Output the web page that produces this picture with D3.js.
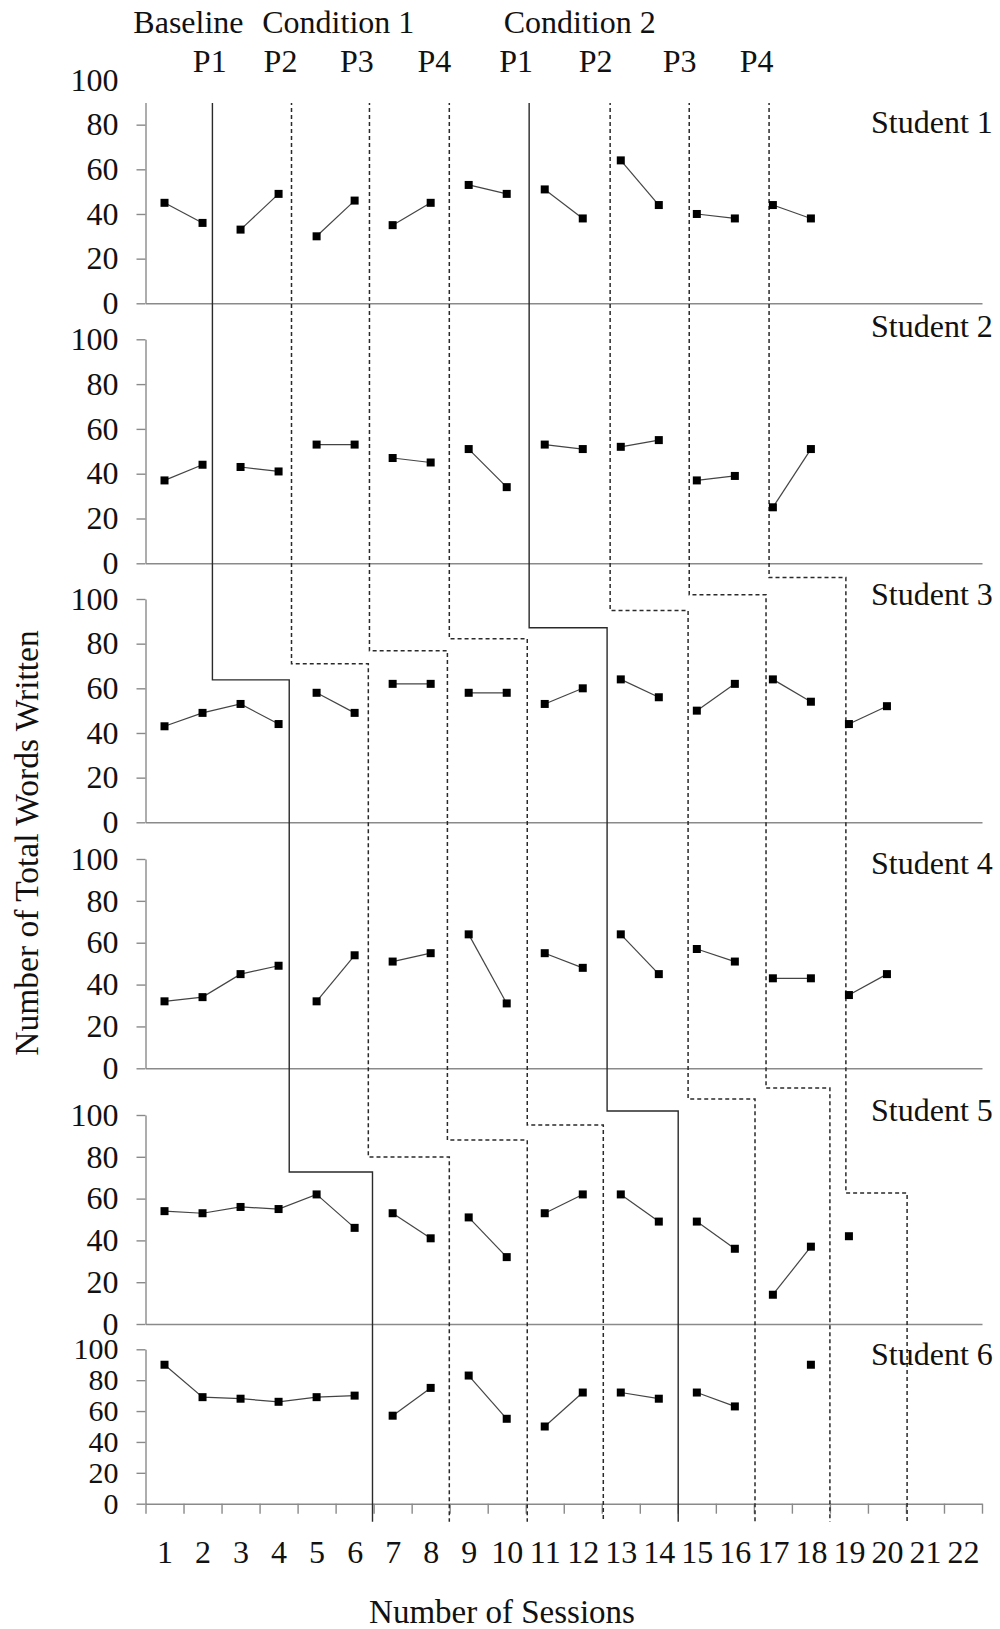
<!DOCTYPE html>
<html>
<head>
<meta charset="utf-8">
<script src="https://cdn.jsdelivr.net/npm/d3@7"></script>
<style>
  body { margin: 0; background: #fff; }
  text { font-family: "Liberation Serif", "Times New Roman", serif; fill: #111; }
</style>
</head>
<body>
<div id="chart"></div>
<script>
// ---- data ----
var sessions = d3.range(1, 23)
var yTicks = [0, 20, 40, 60, 80, 100]
var students = ["Student 1", "Student 2", "Student 3", "Student 4", "Student 5", "Student 6"]

var student1 = [45, 36, 33, 49, 30, 46, 35, 45, 53, 49, 51, 38, 64, 44, 40, 38, 44, 38, null, null]
var student2 = [37, 44, 43, 41, 53, 53, 47, 45, 51, 34, 53, 51, 52, 55, 37, 39, 25, 51, null, null]
var student3 = [43, 49, 53, 44, 58, 49, 62, 62, 58, 58, 53, 60, 64, 56, 50, 62, 64, 54, 44, 52]
var student4 = [32, 34, 45, 49, 32, 54, 51, 55, 64, 31, 55, 48, 64, 45, 57, 51, 43, 43, 35, 45]
var student5 = [54, 53, 56, 55, 62, 46, 53, 41, 51, 32, 53, 62, 62, 49, 49, 36, 14, 37, 42, null]
var student6 = [90, 69, 68, 66, 69, 70, 57, 75, 83, 55, 50, 72, 72, 68, 72, 63, null, 90, null, null]
var values = [student1, student2, student3, student4, student5, student6]

// sessions after which the data path is broken (phase changes)
var breaks12 = [2, 4, 6, 8, 10, 12, 14, 16]
var breaks34 = [4, 6, 8, 10, 12, 14, 16, 18]
var breaks56 = [6, 8, 10, 12, 14, 16, 18, 20]
var breaks = [breaks12, breaks12, breaks34, breaks34, breaks56, breaks56]

// staircase phase-change lines (session units, step levels in value units)
var phaseSolid = [true, false, false, false, true, false, false, false]
var phaseX12 = [2.26, 4.34, 6.39, 8.49, 10.59, 12.72, 14.80, 16.90]
var phaseX34 = [4.28, 6.36, 8.44, 10.54, 12.64, 14.77, 16.82, 18.92]
var phaseX56 = [6.47, 8.49, 10.54, 12.54, 14.51, 16.53, 18.50, 20.53]
var stepIn3 = [63.8, 71.0, 76.8, 82.2, 87.1, 94.8, 101.9, 109.6]
var stepIn5 = [72.7, 79.9, 88.0, 95.2, 101.9, 107.7, 112.9, 62.7]

var conditionLabels = ["Baseline", "Condition 1", "Condition 2"]
var conditionAt = [1.63, 5.57, 11.92]
var partLabels = ["P1", "P2", "P3", "P4", "P1", "P2", "P3", "P4"]
var partAt = [2.19, 4.05, 6.06, 8.1, 10.25, 12.34, 14.55, 16.57]

// ---- layout ----
var W = 1000, H = 1629
var panels = [
  { top: 80, bottom: 303.3, label: 133 },
  { top: 339.3, bottom: 563.3, label: 337 },
  { top: 599, bottom: 822.3, label: 605 },
  { top: 859, bottom: 1068.3, label: 874 },
  { top: 1115, bottom: 1324, label: 1121 },
  { top: 1349.3, bottom: 1503.7, label: 1365 }
]
var axisColor = "#8a8a8a"
var fontSize = 32

var svg = d3.select("#chart").append("svg").attr("width", W).attr("height", H)
var x = d3.scaleLinear().domain([0.5, 22.5]).range([145.5, 982])
var yScales = panels.map(function (p) {
  return d3.scaleLinear().domain([0, 100]).range([p.bottom, p.top])
})

function styleAxis(g, size) {
  g.attr("font-family", null).attr("font-size", null)
  g.selectAll(".domain").attr("stroke", axisColor).attr("stroke-width", 1.4)
  g.selectAll(".tick line").attr("stroke", axisColor).attr("stroke-width", 1.4)
  g.selectAll(".tick text").attr("font-size", size || fontSize).attr("fill", "#111")
}

// axes
panels.forEach(function (p, i) {
  var y = yScales[i]
  svg.append("g")
    .attr("transform", "translate(" + x.range()[0] + ",0)")
    .call(d3.axisLeft(y).tickValues(yTicks).tickSize(9).tickSizeOuter(0).tickPadding(18))
    .call(styleAxis, i === 5 ? 30 : fontSize)
  svg.append("g")
    .attr("transform", "translate(0," + y(0) + ")")
    .call(d3.axisBottom(x).tickValues(i === 5 ? d3.range(0.5, 23, 1) : []).tickSize(i === 5 ? 10 : 0).tickSizeOuter(0).tickFormat(""))
    .call(styleAxis)
})

// x tick labels
var yLast = yScales[5]
svg.append("g")
  .attr("transform", "translate(0," + yLast(0) + ")")
  .call(d3.axisBottom(x).tickValues(sessions).tickSize(0).tickPadding(37).tickFormat(d3.format("d")))
  .call(styleAxis)
  .call(function (g) { g.select(".domain").remove() })

// phase-change staircase lines
var stair = d3.line()
phaseX12.forEach(function (xa, i) {
  var pts = [
    [x(xa), panels[0].top],
    [x(xa), yScales[2](stepIn3[i])],
    [x(phaseX34[i]), yScales[2](stepIn3[i])],
    [x(phaseX34[i]), yScales[4](stepIn5[i])],
    [x(phaseX56[i]), yScales[4](stepIn5[i])],
    [x(phaseX56[i]), panels[5].bottom + 18]
  ]
  svg.append("path")
    .attr("d", stair(pts))
    .attr("fill", "none")
    .attr("stroke", "#2a2a2a")
    .attr("stroke-width", phaseSolid[i] ? 1.4 : 1.5)
    .attr("stroke-dasharray", phaseSolid[i] ? null : "4,3")
})

// data series
values.forEach(function (vals, i) {
  var y = yScales[i]
  var runs = [], cur = []
  vals.forEach(function (v, k) {
    var s = k + 1
    if (v != null) cur.push({ s: s, v: v })
    if (breaks[i].indexOf(s) > -1) { runs.push(cur); cur = [] }
  })
  runs.push(cur)
  var line = d3.line().x(function (d) { return x(d.s) }).y(function (d) { return y(d.v) })
  var g = svg.append("g")
  runs.forEach(function (run) {
    if (run.length > 1) {
      g.append("path").attr("d", line(run)).attr("fill", "none")
        .attr("stroke", "#444").attr("stroke-width", 1.2)
    }
  })
  var pts = vals.map(function (v, k) { return { s: k + 1, v: v } }).filter(function (d) { return d.v != null })
  g.selectAll("rect").data(pts).enter().append("rect")
    .attr("x", function (d) { return x(d.s) - 4 })
    .attr("y", function (d) { return y(d.v) - 4 })
    .attr("width", 8).attr("height", 8)
    .attr("fill", "#000")
})

// white cover behind the phase header
svg.append("rect").attr("x", 118).attr("y", 0).attr("width", 744).attr("height", 103).attr("fill", "#fff")

// phase header labels
svg.selectAll("text.cond").data(conditionLabels).enter().append("text")
  .attr("class", "cond")
  .attr("x", function (d, i) { return x(conditionAt[i]) })
  .attr("y", 33)
  .attr("text-anchor", "middle")
  .attr("font-size", fontSize)
  .text(function (d) { return d })
svg.selectAll("text.part").data(partLabels).enter().append("text")
  .attr("class", "part")
  .attr("x", function (d, i) { return x(partAt[i]) })
  .attr("y", 72)
  .attr("text-anchor", "middle")
  .attr("font-size", fontSize)
  .text(function (d) { return d })

// student labels
svg.selectAll("text.student").data(students).enter().append("text")
  .attr("class", "student")
  .attr("x", 871)
  .attr("y", function (d, i) { return panels[i].label })
  .attr("font-size", fontSize)
  .text(function (d) { return d })

// axis titles
svg.append("text")
  .attr("x", 502).attr("y", 1623)
  .attr("text-anchor", "middle")
  .attr("font-size", 33)
  .text("Number of Sessions")
svg.append("text")
  .attr("transform", "translate(38,843) rotate(-90)")
  .attr("text-anchor", "middle")
  .attr("font-size", 33.5)
  .text("Number of Total Words Written")
</script>
</body>
</html>
